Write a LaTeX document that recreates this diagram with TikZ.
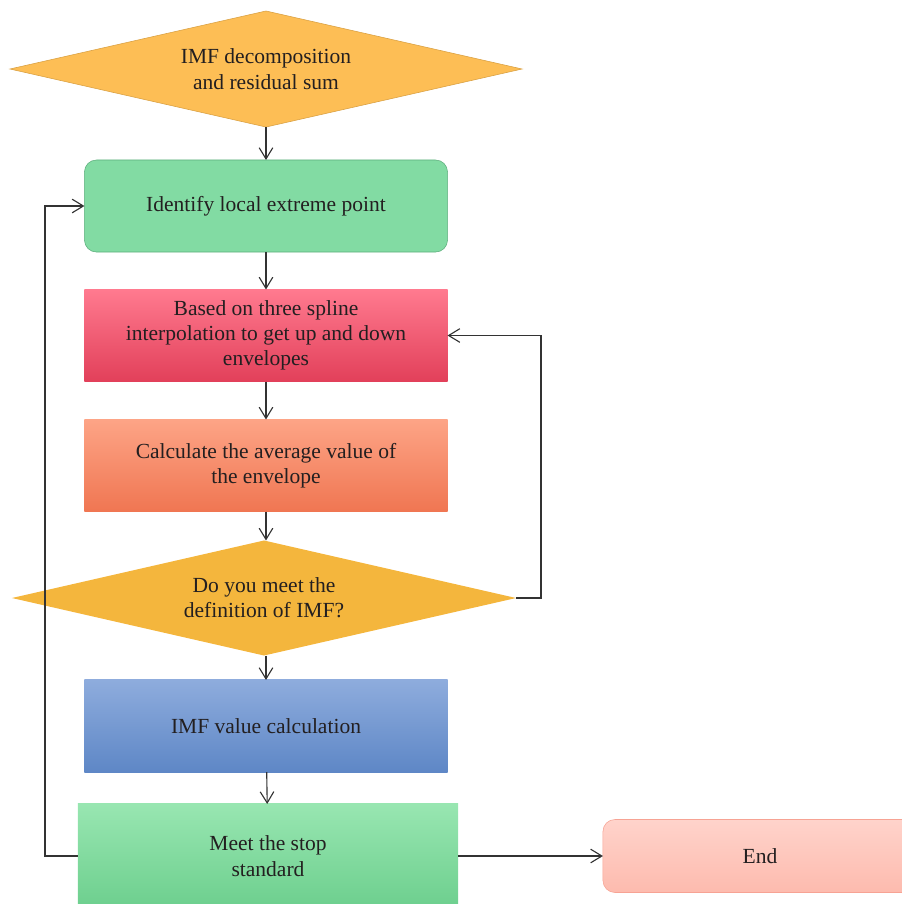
\documentclass[tikz,border=0pt]{standalone}
\usepackage{fontspec}
\setmainfont{Liberation Serif}
\usetikzlibrary{shapes.geometric,arrows.meta}
\definecolor{txt}{HTML}{231F20}
\definecolor{lnk}{HTML}{333333}
\definecolor{diaone}{HTML}{FDBE55}
\definecolor{diaoneline}{HTML}{D9A042}
\definecolor{diatwo}{HTML}{F4B63D}
\definecolor{idfill}{HTML}{82DBA3}
\definecolor{idline}{HTML}{5DAE7C}
\definecolor{redtop}{HTML}{FF7A8F}
\definecolor{redbot}{HTML}{E2405A}
\definecolor{orgtop}{HTML}{FDA486}
\definecolor{orgbot}{HTML}{F07652}
\definecolor{blutop}{HTML}{8EACDD}
\definecolor{blubot}{HTML}{5E87C6}
\definecolor{grntop}{HTML}{98E6B1}
\definecolor{grnbot}{HTML}{6DCF8E}
\definecolor{endtop}{HTML}{FFD3CB}
\definecolor{endbot}{HTML}{FDBBAE}
\definecolor{endline}{HTML}{F7A394}

\begin{document}
\begin{tikzpicture}[
        x=0.025cm, y=-0.025cm,
        >={Straight Barb[length=2.8mm,width=3.4mm]},
        every node/.style={font=\fontsize{15.3}{18}\selectfont, text=txt, align=center},
        dec/.style={diamond, aspect=4, inner sep=0pt, outer sep=0pt, minimum width=12.8cm, minimum height=2.9cm},
        box/.style={rectangle, inner sep=0pt, outer sep=0pt, minimum width=9.075cm, minimum height=2.3cm},
        link/.style={->, draw=lnk, line width=0.8pt}
    ]
        \useasboundingbox (0,0) rectangle (902,904);
        \clip (0,0) rectangle (902,904);

        \node[dec, fill=diaone, draw=diaoneline] (imf) at (266,69) {IMF decomposition\\and residual sum};
        \node[box, rounded corners=0.3cm, fill=idfill, draw=idline] (ident) at (266,206) {\raisebox{-1mm}{Identify local extreme point}};
        \node[box, top color=redtop, bottom color=redbot] (spline) at (266,335.5) {Based on three spline\\interpolation to get up and down\\envelopes};
        \node[box, top color=orgtop, bottom color=orgbot] (avg) at (266,465.5) {Calculate the average value of\\the envelope};
        \node[dec, minimum width=12.6cm, minimum height=2.875cm, fill=diatwo] (check) at (264,598) {Do you meet the\\definition of IMF?};
        \node[box, top color=blutop, bottom color=blubot] (imfval) at (266,726) {IMF value calculation};
        \node[box, minimum width=9.5cm, minimum height=2.6cm, top color=grntop, bottom color=grnbot] (stop) at (268,856) {Meet the stop\\standard};
        \node[box, rounded corners=0.3cm, minimum width=7.85cm, minimum height=1.825cm, top color=endtop, bottom color=endbot, draw=endline] (end) at (760,856) {End};

        \coordinate (lback) at (45,0);
        \coordinate (rback) at (541,0);

        \draw[link] (imf.south) -- (ident.north);
        \draw[link] (ident) -- (spline);
        \draw[link] (spline) -- (avg);
        \draw[link] (avg.south) -- (avg.south |- check.north);
        \draw[link] (check.south -| imfval) -- (imfval.north);
        \draw[link] (imfval) -- (stop);
        \draw[link] (check.east) -- (check.east -| rback) |- (spline.east);
        \draw[link] (stop.west) -- (stop.west -| lback) |- (ident.west);
        \draw[link] (stop.east) -- (end.west);
    \end{tikzpicture}
\end{document}
